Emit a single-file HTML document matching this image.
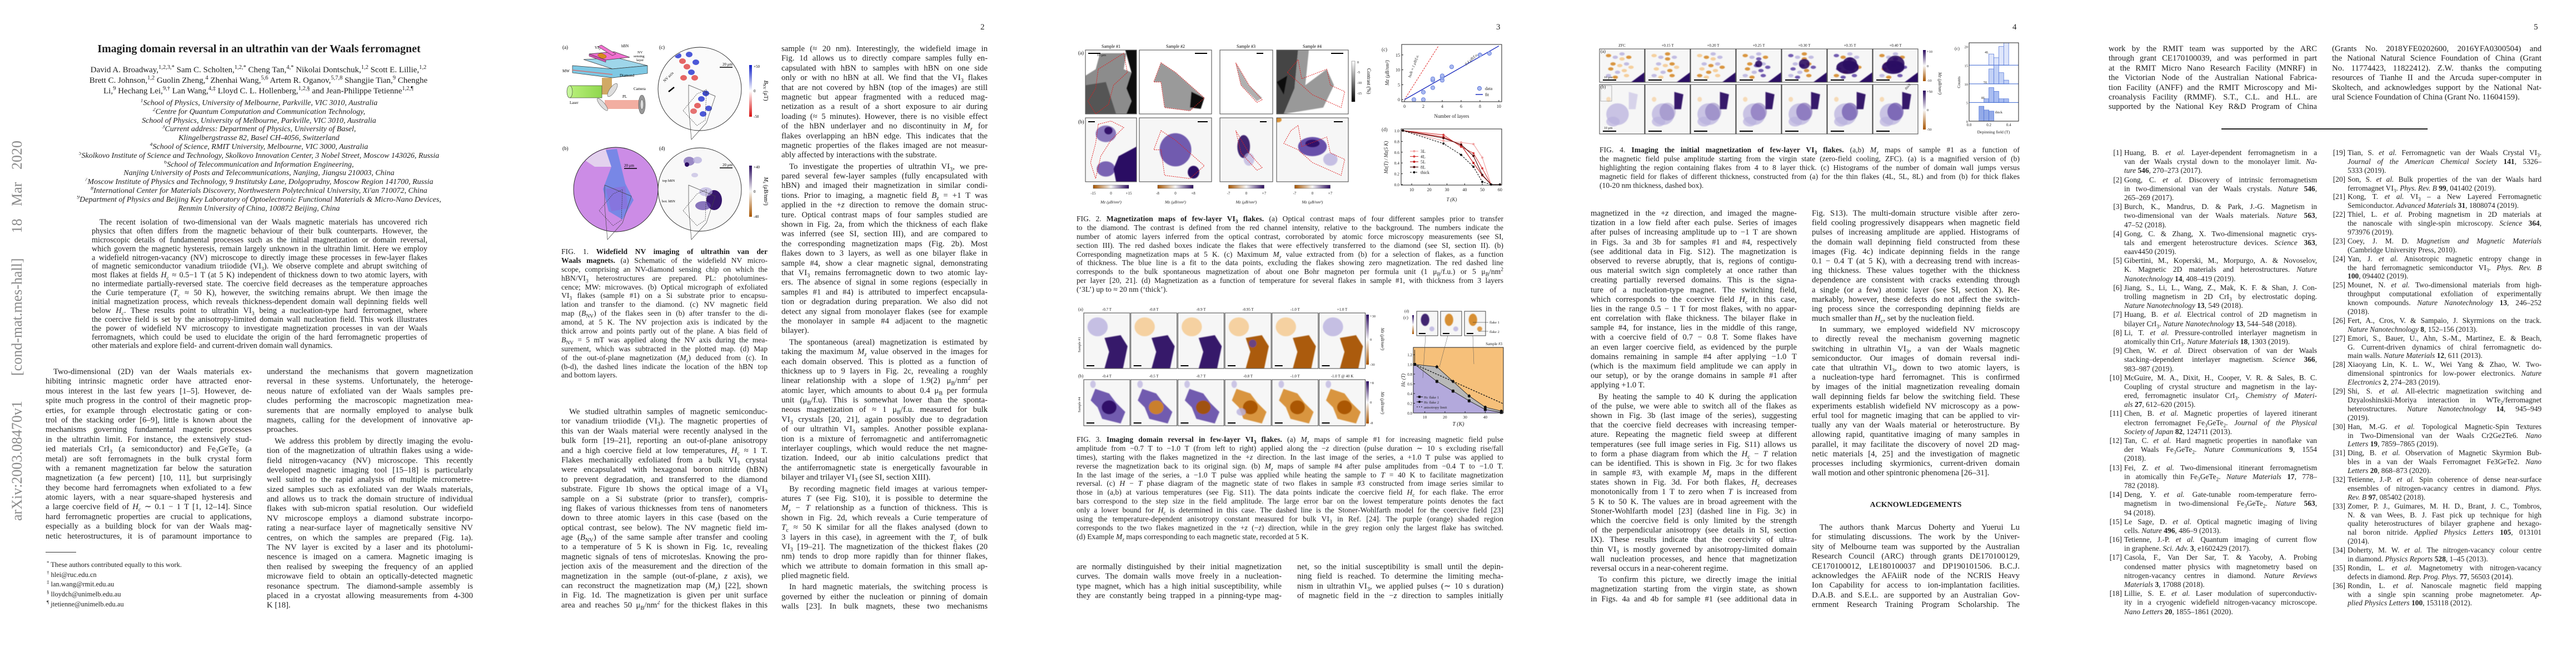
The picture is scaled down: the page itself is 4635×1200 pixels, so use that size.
<!DOCTYPE html>
<html><head><meta charset="utf-8"><title>Imaging domain reversal in an ultrathin van der Waals ferromagnet</title>
<style>
body{margin:0;width:4635px;height:1200px;background:#fff;overflow:hidden;position:relative;font-family:"Liberation Serif",serif;color:#1e1e1e}
sup,sub{line-height:0;font-size:0.7em}
.blk{position:absolute}
.t{font-size:14.8px;line-height:17.4px}
.t .l{height:17.4px}
.l{overflow:hidden;text-align:justify;text-align-last:justify}
.e{text-align-last:left}
.c{text-align:center;text-align-last:center}
.i{text-indent:14px}
.p{margin-top:3px}
.cap{font-size:13.6px;line-height:15.9px}
.cap .l{height:15.9px}
.ref{font-size:13.4px;line-height:16.2px}
.ref .l{height:16.2px}
.ref2 .l{height:15.9px}
.r{position:relative;padding-left:28px}
.n{position:absolute;left:0;top:0;width:24px;text-align:right}
.aff{font-style:italic;font-size:14px;line-height:15.8px;text-align:center}
.aff div{height:15.8px;overflow:hidden}
.pn{font-size:15px}
svg text{font-family:"Liberation Serif",serif}
</style></head>
<body>

<div class="blk" style="left:-311px;top:575px;width:684px;height:40px;transform:rotate(-90deg);font-family:'Liberation Serif',serif;font-size:26px;color:#8a8a8a;line-height:40px;text-align:justify;text-align-last:justify">arXiv:2003.08470v1 &nbsp;[cond-mat.mes-hall] &nbsp;18 Mar 2020</div>

<!-- ================= PAGE 1 ================= -->
<div class="blk" style="left:163px;top:76px;width:606px;text-align:center;font-size:20px;font-weight:bold;line-height:24px">Imaging domain reversal in an ultrathin van der Waals ferromagnet</div>
<div class="blk" style="left:113px;top:117px;width:704px;font-size:15px;line-height:19px;text-align:center">
<div>David A. Broadway,<sup>1,2,3,*</sup> Sam C. Scholten,<sup>1,2,*</sup> Cheng Tan,<sup>4,*</sup> Nikolai Dontschuk,<sup>1,2</sup> Scott E. Lillie,<sup>1,2</sup></div>
<div>Brett C. Johnson,<sup>1,2</sup> Guolin Zheng,<sup>4</sup> Zhenhai Wang,<sup>5,6</sup> Artem R. Oganov,<sup>5,7,8</sup> Shangjie Tian,<sup>9</sup> Chenghe</div>
<div>Li,<sup>9</sup> Hechang Lei,<sup>9,†</sup> Lan Wang,<sup>4,‡</sup> Lloyd C. L. Hollenberg,<sup>1,2,§</sup> and Jean-Philippe Tetienne<sup>1,2,¶</sup></div>
</div>
<div class="blk aff" style="left:110px;top:178px;width:712px">
<div><sup>1</sup>School of Physics, University of Melbourne, Parkville, VIC 3010, Australia</div>
<div><sup>2</sup>Centre for Quantum Computation and Communication Technology,</div>
<div>School of Physics, University of Melbourne, Parkville, VIC 3010, Australia</div>
<div><sup>3</sup>Current address: Department of Physics, University of Basel,</div>
<div>Klingelbergstrasse 82, Basel CH-4056, Switzerland</div>
<div><sup>4</sup>School of Science, RMIT University, Melbourne, VIC 3000, Australia</div>
<div><sup>5</sup>Skolkovo Institute of Science and Technology, Skolkovo Innovation Center, 3 Nobel Street, Moscow 143026, Russia</div>
<div><sup>6</sup>School of Telecommunication and Information Engineering,</div>
<div>Nanjing University of Posts and Telecommunications, Nanjing, Jiangsu 210003, China</div>
<div><sup>7</sup>Moscow Institute of Physics and Technology, 9 Institutsky Lane, Dolgoprudny, Moscow Region 141700, Russia</div>
<div><sup>8</sup>International Center for Materials Discovery, Northwestern Polytechnical University, Xi'an 710072, China</div>
<div><sup>9</sup>Department of Physics and Beijing Key Laboratory of Optoelectronic Functional Materials &amp; Micro-Nano Devices,</div>
<div>Renmin University of China, 100872 Beijing, China</div>
</div>
<div class="blk" style="left:165px;top:393px;width:604px;font-size:14.2px;line-height:15.9px">
<div class="l i" style="height:15.9px">The recent isolation of two-dimensional van der Waals magnetic materials has uncovered rich</div>
<div class="l" style="height:15.9px">physics that often differs from the magnetic behaviour of their bulk counterparts. However, the</div>
<div class="l" style="height:15.9px">microscopic details of fundamental processes such as the initial magnetization or domain reversal,</div>
<div class="l" style="height:15.9px">which govern the magnetic hysteresis, remain largely unknown in the ultrathin limit. Here we employ</div>
<div class="l" style="height:15.9px">a widefield nitrogen-vacancy (NV) microscope to directly image these processes in few-layer flakes</div>
<div class="l" style="height:15.9px">of magnetic semiconductor vanadium triiodide (VI<sub>3</sub>). We observe complete and abrupt switching of</div>
<div class="l" style="height:15.9px">most flakes at fields <i>H</i><sub>c</sub> ≈ 0.5−1 T (at 5 K) independent of thickness down to two atomic layers, with</div>
<div class="l" style="height:15.9px">no intermediate partially-reversed state. The coercive field decreases as the temperature approaches</div>
<div class="l" style="height:15.9px">the Curie temperature (<i>T</i><sub>c</sub> ≈ 50 K), however, the switching remains abrupt. We then image the</div>
<div class="l" style="height:15.9px">initial magnetization process, which reveals thickness-dependent domain wall depinning fields well</div>
<div class="l" style="height:15.9px">below <i>H</i><sub>c</sub>. These results point to ultrathin VI<sub>3</sub> being a nucleation-type hard ferromagnet, where</div>
<div class="l" style="height:15.9px">the coercive field is set by the anisotropy-limited domain wall nucleation field. This work illustrates</div>
<div class="l" style="height:15.9px">the power of widefield NV microscopy to investigate magnetization processes in van der Waals</div>
<div class="l" style="height:15.9px">ferromagnets, which could be used to elucidate the origin of the hard ferromagnetic properties of</div>
<div class="l e" style="height:15.9px">other materials and explore field- and current-driven domain wall dynamics.</div>
</div>

<div class="blk t" style="left:82px;top:661px;width:371px">
<div class="l i">Two-dimensional (2D) van der Waals materials ex-</div>
<div class="l">hibiting intrinsic magnetic order have attracted enor-</div>
<div class="l">mous interest in the last few years [1–5]. However, de-</div>
<div class="l">spite much progress in the control of their magnetic prop-</div>
<div class="l">erties, for example through electrostatic gating or con-</div>
<div class="l">trol of the stacking order [6–9], little is known about the</div>
<div class="l">mechanisms governing fundamental magnetic processes</div>
<div class="l">in the ultrathin limit. For instance, the extensively stud-</div>
<div class="l">ied materials CrI<sub>3</sub> (a semiconductor) and Fe<sub>3</sub>GeTe<sub>2</sub> (a</div>
<div class="l">metal) are soft ferromagnets in the bulk crystal form</div>
<div class="l">with a remanent magnetization far below the saturation</div>
<div class="l">magnetization (a few percent) [10, 11], but surprisingly</div>
<div class="l">they become hard ferromagnets when exfoliated to a few</div>
<div class="l">atomic layers, with a near square-shaped hysteresis and</div>
<div class="l">a large coercive field of <i>H</i><sub>c</sub> ∼ 0.1 − 1 T [1, 12–14]. Since</div>
<div class="l">hard ferromagnetic properties are crucial to applications,</div>
<div class="l">especially as a building block for van der Waals mag-</div>
<div class="l">netic heterostructures, it is of paramount importance to</div>
</div>
<div class="blk" style="left:82px;top:993px;width:55px;height:1px;background:#333"></div>
<div class="blk" style="left:84px;top:1008px;width:360px;font-size:12.5px;line-height:17.7px">
<div><sup>*</sup> These authors contributed equally to this work.</div>
<div><sup>†</sup> hlei@ruc.edu.cn</div>
<div><sup>‡</sup> lan.wang@rmit.edu.au</div>
<div><sup>§</sup> lloydch@unimelb.edu.au</div>
<div><sup>¶</sup> jtetienne@unimelb.edu.au</div>
</div>
<div class="blk t" style="left:480px;top:661px;width:371px">
<div class="l">understand the mechanisms that govern magnetization</div>
<div class="l">reversal in these systems. Unfortunately, the heteroge-</div>
<div class="l">neous nature of exfoliated van der Waals samples pre-</div>
<div class="l">cludes performing the macroscopic magnetization mea-</div>
<div class="l">surements that are normally employed to analyse bulk</div>
<div class="l">magnets, calling for the development of innovative ap-</div>
<div class="l e">proaches.</div>
<div class="l i p">We address this problem by directly imaging the evolu-</div>
<div class="l">tion of the magnetization of ultrathin flakes using a wide-</div>
<div class="l">field nitrogen-vacancy (NV) microscope. This recently</div>
<div class="l">developed magnetic imaging tool [15–18] is particularly</div>
<div class="l">well suited to the rapid analysis of multiple micrometre-</div>
<div class="l">sized samples such as exfoliated van der Waals materials,</div>
<div class="l">and allows us to track the domain structure of individual</div>
<div class="l">flakes with sub-micron spatial resolution. Our widefield</div>
<div class="l">NV microscope employs a diamond substrate incorpo-</div>
<div class="l">rating a near-surface layer of magnetically sensitive NV</div>
<div class="l">centres, on which the samples are prepared (Fig. 1a).</div>
<div class="l">The NV layer is excited by a laser and its photolumi-</div>
<div class="l">nescence is imaged on a camera. Magnetic imaging is</div>
<div class="l">then realised by sweeping the frequency of an applied</div>
<div class="l">microwave field to obtain an optically-detected magnetic</div>
<div class="l">resonance spectrum. The diamond-sample assembly is</div>
<div class="l">placed in a cryostat allowing measurements from 4-300</div>
<div class="l e">K [18].</div>
</div>

<!-- ================= PAGE 2 ================= -->
<div class="blk pn" style="left:1764px;top:41px">2</div>
<div class="blk cap" style="left:1010px;top:445px;width:371px">
<div class="l">FIG. 1. <b>Widefield NV imaging of ultrathin van der</b></div>
<div class="l"><b>Waals magnets.</b> (a) Schematic of the widefield NV micro-</div>
<div class="l">scope, comprising an NV-diamond sensing chip on which the</div>
<div class="l">hBN/VI<sub>3</sub> heterostructures are prepared. PL: photolumines-</div>
<div class="l">cence; MW: microwaves. (b) Optical micrograph of exfoliated</div>
<div class="l">VI<sub>3</sub> flakes (sample #1) on a Si substrate prior to encapsu-</div>
<div class="l">lation and transfer to the diamond. (c) NV magnetic field</div>
<div class="l">map (<i>B</i><sub>NV</sub>) of the flakes seen in (b) after transfer to the di-</div>
<div class="l">amond, at 5 K. The NV projection axis is indicated by the</div>
<div class="l">thick arrow and points partly out of the plane. A bias field of</div>
<div class="l"><i>B</i><sub>NV</sub> = 5 mT was applied along the NV axis during the mea-</div>
<div class="l">surement, which was subtracted in the plotted map. (d) Map</div>
<div class="l">of the out-of-plane magnetization (<i>M<sub>z</sub></i>) deduced from (c). In</div>
<div class="l">(b-d), the dashed lines indicate the location of the hBN top</div>
<div class="l e">and bottom layers.</div>
</div>
<div class="blk t" style="left:1010px;top:733px;width:371px">
<div class="l i">We studied ultrathin samples of magnetic semiconduc-</div>
<div class="l">tor vanadium triiodide (VI<sub>3</sub>). The magnetic properties of</div>
<div class="l">this van der Waals material were recently analysed in the</div>
<div class="l">bulk form [19–21], reporting an out-of-plane anisotropy</div>
<div class="l">and a high coercive field at low temperatures, <i>H</i><sub>c</sub> ≈ 1 T.</div>
<div class="l">Flakes mechanically exfoliated from a bulk VI<sub>3</sub> crystal</div>
<div class="l">were encapsulated with hexagonal boron nitride (hBN)</div>
<div class="l">to prevent degradation, and transferred to the diamond</div>
<div class="l">substrate. Figure 1b shows the optical image of a VI<sub>3</sub></div>
<div class="l">sample on a Si substrate (prior to transfer), compris-</div>
<div class="l">ing flakes of various thicknesses from tens of nanometers</div>
<div class="l">down to three atomic layers in this case (based on the</div>
<div class="l">optical contrast, see below). The NV magnetic field im-</div>
<div class="l">age (<i>B</i><sub>NV</sub>) of the same sample after transfer and cooling</div>
<div class="l">to a temperature of 5 K is shown in Fig. 1c, revealing</div>
<div class="l">magnetic signals of tens of microteslas. Knowing the pro-</div>
<div class="l">jection axis of the measurement and the direction of the</div>
<div class="l">magnetization in the sample (out-of-plane, <i>z</i> axis), we</div>
<div class="l">can reconstruct the magnetization map (<i>M<sub>z</sub></i>) [22], shown</div>
<div class="l">in Fig. 1d. The magnetization is given per unit surface</div>
<div class="l">area and reaches 50 μ<sub>B</sub>/nm<sup>2</sup> for the thickest flakes in this</div>
</div>
<div class="blk t" style="left:1406px;top:80px;width:371px;line-height:17.3px">
<div class="l">sample (≈ 20 nm). Interestingly, the widefield image in</div>
<div class="l">Fig. 1d allows us to directly compare samples fully en-</div>
<div class="l">capsulated with hBN to samples with hBN on one side</div>
<div class="l">only or with no hBN at all. We find that the VI<sub>3</sub> flakes</div>
<div class="l">that are not covered by hBN (top of the images) are still</div>
<div class="l">magnetic but appear fragmented with a reduced mag-</div>
<div class="l">netization as a result of a short exposure to air during</div>
<div class="l">loading (≈ 5 minutes). However, there is no visible effect</div>
<div class="l">of the hBN underlayer and no discontinuity in <i>M<sub>z</sub></i> for</div>
<div class="l">flakes overlapping an hBN edge. This indicates that the</div>
<div class="l">magnetic properties of the flakes imaged are not measur-</div>
<div class="l e">ably affected by interactions with the substrate.</div>
<div class="l i p">To investigate the properties of ultrathin VI<sub>3</sub>, we pre-</div>
<div class="l">pared several few-layer samples (fully encapsulated with</div>
<div class="l">hBN) and imaged their magnetization in similar condi-</div>
<div class="l">tions. Prior to imaging, a magnetic field <i>B<sub>z</sub></i> = +1 T was</div>
<div class="l">applied in the +<i>z</i> direction to remove the domain struc-</div>
<div class="l">ture. Optical contrast maps of four samples studied are</div>
<div class="l">shown in Fig. 2a, from which the thickness of each flake</div>
<div class="l">was inferred (see SI, section III), and are compared to</div>
<div class="l">the corresponding magnetization maps (Fig. 2b). Most</div>
<div class="l">flakes down to 3 layers, as well as one bilayer flake in</div>
<div class="l">sample #4, show a clear magnetic signal, demonstrating</div>
<div class="l">that VI<sub>3</sub> remains ferromagnetic down to two atomic lay-</div>
<div class="l">ers. The absence of signal in some regions (especially in</div>
<div class="l">samples #1 and #4) is attributed to imperfect encapsula-</div>
<div class="l">tion or degradation during preparation. We also did not</div>
<div class="l">detect any signal from monolayer flakes (see for example</div>
<div class="l">the monolayer in sample #4 adjacent to the magnetic</div>
<div class="l e">bilayer).</div>
<div class="l i p">The spontaneous (areal) magnetization is estimated by</div>
<div class="l">taking the maximum <i>M<sub>z</sub></i> value observed in the images for</div>
<div class="l">each domain observed. This is plotted as a function of</div>
<div class="l">thickness up to 9 layers in Fig. 2c, revealing a roughly</div>
<div class="l">linear relationship with a slope of 1.9(2) μ<sub>B</sub>/nm<sup>2</sup> per</div>
<div class="l">atomic layer, which amounts to about 0.4 μ<sub>B</sub> per formula</div>
<div class="l">unit (μ<sub>B</sub>/f.u). This is somewhat lower than the sponta-</div>
<div class="l">neous magnetization of ≈ 1 μ<sub>B</sub>/f.u. measured for bulk</div>
<div class="l">VI<sub>3</sub> crystals [20, 21], again possibly due to degradation</div>
<div class="l">of our ultrathin VI<sub>3</sub> samples. Another possible explana-</div>
<div class="l">tion is a mixture of ferromagnetic and antiferromagnetic</div>
<div class="l">interlayer couplings, which would reduce the net magne-</div>
<div class="l">tization. Indeed, our ab initio calculations predict that</div>
<div class="l">the antiferromagnetic state is energetically favourable in</div>
<div class="l e">bilayer and trilayer VI<sub>3</sub> (see SI, section XIII).</div>
<div class="l i p">By recording magnetic field images at various temper-</div>
<div class="l">atures <i>T</i> (see Fig. S10), it is possible to determine the</div>
<div class="l"><i>M<sub>z</sub></i> − <i>T</i> relationship as a function of thickness. This is</div>
<div class="l">shown in Fig. 2d, which reveals a Curie temperature of</div>
<div class="l"><i>T</i><sub>c</sub> ≈ 50 K similar for all the flakes analysed (down to</div>
<div class="l">3 layers in this case), in agreement with the <i>T</i><sub>c</sub> of bulk</div>
<div class="l">VI<sub>3</sub> [19–21]. The magnetization of the thickest flakes (20</div>
<div class="l">nm) tends to drop more rapidly than for thinner flakes,</div>
<div class="l">which we attribute to domain formation in this small ap-</div>
<div class="l e">plied magnetic field.</div>
<div class="l i p">In hard magnetic materials, the switching process is</div>
<div class="l">governed by either the nucleation or pinning of domain</div>
<div class="l">walls [23]. In bulk magnets, these two mechanisms</div>
</div>

<!-- ================= PAGE 3 ================= -->
<div class="blk pn" style="left:2692px;top:41px">3</div>
<div class="blk cap" style="left:1937px;top:386px;width:768px">
<div class="l">FIG. 2. <b>Magnetization maps of few-layer VI<sub>3</sub> flakes.</b> (a) Optical contrast maps of four different samples prior to transfer</div>
<div class="l">to the diamond. The contrast is defined from the red channel intensity, relative to the background. The numbers indicate the</div>
<div class="l">number of atomic layers inferred from the optical contrast, corroborated by atomic force microscopy measurements (see SI,</div>
<div class="l">section III). The red dashed boxes indicate the flakes that were effectively transferred to the diamond (see SI, section II). (b)</div>
<div class="l">Corresponding magnetization maps at 5 K. (c) Maximum <i>M<sub>z</sub></i> value extracted from (b) for a selection of flakes, as a function</div>
<div class="l">of thickness. The blue line is a fit to the data points, excluding the flakes showing zero magnetization. The red dashed line</div>
<div class="l">corresponds to the bulk spontaneous magnetization of about one Bohr magneton per formula unit (1 μ<sub>B</sub>/f.u.) or 5 μ<sub>B</sub>/nm<sup>2</sup></div>
<div class="l">per layer [20, 21]. (d) Magnetization as a function of temperature for several flakes in sample #1, with thickness from 3 layers</div>
<div class="l e">(‘3L’) up to ≈ 20 nm (‘thick’).</div>
</div>
<div class="blk cap" style="left:1937px;top:783px;width:768px">
<div class="l">FIG. 3. <b>Imaging domain reversal in few-layer VI<sub>3</sub> flakes.</b> (a) <i>M<sub>z</sub></i> maps of sample #1 for increasing magnetic field pulse</div>
<div class="l">amplitude from −0.7 T to −1.0 T (from left to right) applied along the −<i>z</i> direction (pulse duration ∼ 10 s excluding rise/fall</div>
<div class="l">times), starting with the flakes magnetized in the +<i>z</i> direction. In the last image of the series, a +1.0 T pulse was applied to</div>
<div class="l">reverse the magnetization back to its original sign. (b) <i>M<sub>z</sub></i> maps of sample #4 after pulse amplitudes from −0.4 T to −1.0 T.</div>
<div class="l">In the last image of the series, a −1.0 T pulse was applied while heating the sample to <i>T</i> = 40 K to facilitate magnetization</div>
<div class="l">reversal. (c) <i>H</i> − <i>T</i> phase diagram of the magnetic state of two flakes in sample #3 constructed from image series similar to</div>
<div class="l">those in (a,b) at various temperatures (see Fig. S11). The data points indicate the coercive field <i>H</i><sub>c</sub> for each flake. The error</div>
<div class="l">bars correspond to the step size in the field amplitude. The large error bar on the lowest temperature points denotes the fact</div>
<div class="l">only a lower bound for <i>H</i><sub>c</sub> is determined in this case. The dashed line is the Stoner-Wohlfarth model for the coercive field [23]</div>
<div class="l">using the temperature-dependent anisotropy constant measured for bulk VI<sub>3</sub> in Ref. [24]. The purple (orange) shaded region</div>
<div class="l">corresponds to the two flakes magnetized in the +<i>z</i> (−<i>z</i>) direction, while in the grey region only the largest flake has switched.</div>
<div class="l e">(d) Example <i>M<sub>z</sub></i> maps corresponding to each magnetic state, recorded at 5 K.</div>
</div>
<div class="blk t" style="left:1937px;top:1012px;width:369px">
<div class="l">are normally distinguished by their initial magnetization</div>
<div class="l">curves. The domain walls move freely in a nucleation-</div>
<div class="l">type magnet, which has a high initial susceptibility, while</div>
<div class="l">they are constantly being trapped in a pinning-type mag-</div>
</div>
<div class="blk t" style="left:2334px;top:1012px;width:371px">
<div class="l">net, so the initial susceptibility is small until the depin-</div>
<div class="l">ning field is reached. To determine the limiting mecha-</div>
<div class="l">nism in ultrathin VI<sub>3</sub>, we applied pulses (∼ 10 s duration)</div>
<div class="l">of magnetic field in the −<i>z</i> direction to samples initially</div>
</div>

<!-- ================= PAGE 4 ================= -->
<div class="blk pn" style="left:3621px;top:41px">4</div>
<div class="blk cap" style="left:2878px;top:262px;width:756px">
<div class="l">FIG. 4. <b>Imaging the initial magnetization of few-layer VI<sub>3</sub> flakes.</b> (a,b) <i>M<sub>z</sub></i> maps of sample #1 as a function of</div>
<div class="l">the magnetic field pulse amplitude starting from the virgin state (zero-field cooling, ZFC). (a) is a magnified version of (b)</div>
<div class="l">highlighting the region containing flakes from 4 to 8 layer thick. (c) Histograms of the number of domain wall jumps versus</div>
<div class="l">magnetic field for flakes of different thickness, constructed from (a) for the thin flakes (4L, 5L, 8L) and from (b) for thick flakes</div>
<div class="l e">(10-20 nm thickness, dashed box).</div>
</div>
<div class="blk t" style="left:2862px;top:376px;width:371px;line-height:17.2px">
<div class="l" style="height:17.2px">magnetized in the +<i>z</i> direction, and imaged the magne-</div>
<div class="l" style="height:17.2px">tization in a low field after each pulse. Series of images</div>
<div class="l" style="height:17.2px">after pulses of increasing amplitude up to −1 T are shown</div>
<div class="l" style="height:17.2px">in Figs. 3a and 3b for samples #1 and #4, respectively</div>
<div class="l" style="height:17.2px">(see additional data in Fig. S12). The magnetization is</div>
<div class="l" style="height:17.2px">observed to reverse abruptly, that is, regions of contigu-</div>
<div class="l" style="height:17.2px">ous material switch sign completely at once rather than</div>
<div class="l" style="height:17.2px">creating partially reversed domains. This is the signa-</div>
<div class="l" style="height:17.2px">ture of a nucleation-type magnet. The switching field,</div>
<div class="l" style="height:17.2px">which corresponds to the coercive field <i>H</i><sub>c</sub> in this case,</div>
<div class="l" style="height:17.2px">lies in the range 0.5 − 1 T for most flakes, with no appar-</div>
<div class="l" style="height:17.2px">ent correlation with flake thickness. The bilayer flake in</div>
<div class="l" style="height:17.2px">sample #4, for instance, lies in the middle of this range,</div>
<div class="l" style="height:17.2px">with a coercive field of 0.7 − 0.8 T. Some flakes have</div>
<div class="l" style="height:17.2px">an even larger coercive field, as evidenced by the purple</div>
<div class="l" style="height:17.2px">domains remaining in sample #4 after applying −1.0 T</div>
<div class="l" style="height:17.2px">(which is the maximum field amplitude we can apply in</div>
<div class="l" style="height:17.2px">our setup), or by the orange domains in sample #1 after</div>
<div class="l e" style="height:17.2px">applying +1.0 T.</div>
<div class="l i p" style="height:17.2px">By heating the sample to 40 K during the application</div>
<div class="l" style="height:17.2px">of the pulse, we were able to switch all of the flakes as</div>
<div class="l" style="height:17.2px">shown in Fig. 3b (last image of the series), suggesting</div>
<div class="l" style="height:17.2px">that the coercive field decreases with increasing temper-</div>
<div class="l" style="height:17.2px">ature. Repeating the magnetic field sweep at different</div>
<div class="l" style="height:17.2px">temperatures (see full image series in Fig. S11) allows us</div>
<div class="l" style="height:17.2px">to form a phase diagram from which the <i>H</i><sub>c</sub> − <i>T</i> relation</div>
<div class="l" style="height:17.2px">can be identified. This is shown in Fig. 3c for two flakes</div>
<div class="l" style="height:17.2px">in sample #3, with example <i>M<sub>z</sub></i> maps in the different</div>
<div class="l" style="height:17.2px">states shown in Fig. 3d. For both flakes, <i>H</i><sub>c</sub> decreases</div>
<div class="l" style="height:17.2px">monotonically from 1 T to zero when <i>T</i> is increased from</div>
<div class="l" style="height:17.2px">5 K to 50 K. The values are in broad agreement with the</div>
<div class="l" style="height:17.2px">Stoner-Wohlfarth model [23] (dashed line in Fig. 3c) in</div>
<div class="l" style="height:17.2px">which the coercive field is only limited by the strength</div>
<div class="l" style="height:17.2px">of the perpendicular anisotropy (see details in SI, section</div>
<div class="l" style="height:17.2px">IX). These results indicate that the coercivity of ultra-</div>
<div class="l" style="height:17.2px">thin VI<sub>3</sub> is mostly governed by anisotropy-limited domain</div>
<div class="l" style="height:17.2px">wall nucleation processes, and hence that magnetization</div>
<div class="l e" style="height:17.2px">reversal occurs in a near-coherent regime.</div>
<div class="l i p" style="height:17.2px">To confirm this picture, we directly image the initial</div>
<div class="l" style="height:17.2px">magnetization starting from the virgin state, as shown</div>
<div class="l" style="height:17.2px">in Figs. 4a and 4b for sample #1 (see additional data in</div>
</div>
<div class="blk t" style="left:3260px;top:376px;width:374px;line-height:17.2px">
<div class="l" style="height:17.2px">Fig. S13). The multi-domain structure visible after zero-</div>
<div class="l" style="height:17.2px">field cooling progressively disappears when magnetic field</div>
<div class="l" style="height:17.2px">pulses of increasing amplitude are applied. Histograms of</div>
<div class="l" style="height:17.2px">the domain wall depinning field constructed from these</div>
<div class="l" style="height:17.2px">images (Fig. 4c) indicate depinning fields in the range</div>
<div class="l" style="height:17.2px">0.1 − 0.4 T (at 5 K), with a decreasing trend with increas-</div>
<div class="l" style="height:17.2px">ing thickness. These values together with the thickness</div>
<div class="l" style="height:17.2px">dependence are consistent with cracks extending through</div>
<div class="l" style="height:17.2px">a single (or a few) atomic layer (see SI, section X). Re-</div>
<div class="l" style="height:17.2px">markably, however, these defects do not affect the switch-</div>
<div class="l" style="height:17.2px">ing process since the corresponding depinning fields are</div>
<div class="l e" style="height:17.2px">much smaller than <i>H</i><sub>c</sub>, set by the nucleation field.</div>
<div class="l i p" style="height:17.2px">In summary, we employed widefield NV microscopy</div>
<div class="l" style="height:17.2px">to directly reveal the mechanism governing magnetic</div>
<div class="l" style="height:17.2px">switching in ultrathin VI<sub>3</sub>, a van der Waals magnetic</div>
<div class="l" style="height:17.2px">semiconductor. Our images of domain reversal indi-</div>
<div class="l" style="height:17.2px">cate that ultrathin VI<sub>3</sub>, down to two atomic layers, is</div>
<div class="l" style="height:17.2px">a nucleation-type hard ferromagnet. This is confirmed</div>
<div class="l" style="height:17.2px">by images of the initial magnetization revealing domain</div>
<div class="l" style="height:17.2px">wall depinning fields far below the switching field. These</div>
<div class="l" style="height:17.2px">experiments establish widefield NV microscopy as a pow-</div>
<div class="l" style="height:17.2px">erful tool for magnetic imaging that can be applied to vir-</div>
<div class="l" style="height:17.2px">tually any van der Waals material or heterostructure. By</div>
<div class="l" style="height:17.2px">allowing rapid, quantitative imaging of many samples in</div>
<div class="l" style="height:17.2px">parallel, it may facilitate the discovery of novel 2D mag-</div>
<div class="l" style="height:17.2px">netic materials [4, 25] and the investigation of magnetic</div>
<div class="l" style="height:17.2px">processes including skyrmionics, current-driven domain</div>
<div class="l e" style="height:17.2px">wall motion and other spintronic phenomena [26–31].</div>
</div>
<div class="blk" style="left:3260px;top:901px;width:374px;text-align:center;font-weight:bold;font-size:14px">ACKNOWLEDGEMENTS</div>
<div class="blk t" style="left:3260px;top:941px;width:374px">
<div class="l i">The authors thank Marcus Doherty and Yuerui Lu</div>
<div class="l">for stimulating discussions. The work by the Univer-</div>
<div class="l">sity of Melbourne team was supported by the Australian</div>
<div class="l">Research Council (ARC) through grants DE170100129,</div>
<div class="l">CE170100012, LE180100037 and DP190101506. B.C.J.</div>
<div class="l">acknowledges the AFAiiR node of the NCRIS Heavy</div>
<div class="l">Ion Capability for access to ion-implantation facilities.</div>
<div class="l">D.A.B. and S.E.L. are supported by an Australian Gov-</div>
<div class="l">ernment Research Training Program Scholarship. The</div>
</div>

<!-- ================= PAGE 5 ================= -->
<div class="blk pn" style="left:4559px;top:41px">5</div>
<div class="blk t" style="left:3794px;top:80px;width:375px">
<div class="l">work by the RMIT team was supported by the ARC</div>
<div class="l">through grant CE170100039, and was performed in part</div>
<div class="l">at the RMIT Micro Nano Research Facility (MNRF) in</div>
<div class="l">the Victorian Node of the Australian National Fabrica-</div>
<div class="l">tion Facility (ANFF) and the RMIT Microscopy and Mi-</div>
<div class="l">croanalysis Facility (RMMF). S.T., C.L. and H.L. are</div>
<div class="l">supported by the National Key R&amp;D Program of China</div>
</div>
<div class="blk t" style="left:4196px;top:80px;width:377px">
<div class="l">(Grants No. 2018YFE0202600, 2016YFA0300504) and</div>
<div class="l">the National Natural Science Foundation of China (Grant</div>
<div class="l">No. 11774423, 11822412). Z.W. thanks the computing</div>
<div class="l">resources of Tianhe II and the Arcuda super-computer in</div>
<div class="l">Skoltech, and acknowledges support by the National Nat-</div>
<div class="l e">ural Science Foundation of China (Grant No. 11604159).</div>
</div>
<div class="blk" style="left:3997px;top:231px;width:371px;height:2px;background:#222"></div>

<div class="blk ref" style="left:3794px;top:267px;width:375px">
<div class="r"><span class="n">[1]</span><div class="l">Huang, B. <i>et al.</i> Layer-dependent ferromagnetism in a</div><div class="l">van der Waals crystal down to the monolayer limit. <i>Na-</i></div><div class="l e"><i>ture</i> <b>546</b>, 270–273 (2017).</div></div>
<div class="r"><span class="n">[2]</span><div class="l">Gong, C. <i>et al.</i> Discovery of intrinsic ferromagnetism</div><div class="l">in two-dimensional van der Waals crystals. <i>Nature</i> <b>546</b>,</div><div class="l e">265–269 (2017).</div></div>
<div class="r"><span class="n">[3]</span><div class="l">Burch, K., Mandrus, D. &amp; Park, J.-G. Magnetism in</div><div class="l">two-dimensional van der Waals materials. <i>Nature</i> <b>563</b>,</div><div class="l e">47–52 (2018).</div></div>
<div class="r"><span class="n">[4]</span><div class="l">Gong, C. &amp; Zhang, X. Two-dimensional magnetic crys-</div><div class="l">tals and emergent heterostructure devices. <i>Science</i> <b>363</b>,</div><div class="l e">eaav4450 (2019).</div></div>
<div class="r"><span class="n">[5]</span><div class="l">Gibertini, M., Koperski, M., Morpurgo, A. &amp; Novoselov,</div><div class="l">K. Magnetic 2D materials and heterostructures. <i>Nature</i></div><div class="l e"><i>Nanotechnology</i> <b>14</b>, 408–419 (2019).</div></div>
<div class="r"><span class="n">[6]</span><div class="l">Jiang, S., Li, L., Wang, Z., Mak, K. F. &amp; Shan, J. Con-</div><div class="l">trolling magnetism in 2D CrI<sub>3</sub> by electrostatic doping.</div><div class="l e"><i>Nature Nanotechnology</i> <b>13</b>, 549 (2018).</div></div>
<div class="r"><span class="n">[7]</span><div class="l">Huang, B. <i>et al.</i> Electrical control of 2D magnetism in</div><div class="l e">bilayer CrI<sub>3</sub>. <i>Nature Nanotechnology</i> <b>13</b>, 544–548 (2018).</div></div>
<div class="r"><span class="n">[8]</span><div class="l">Li, T. <i>et al.</i> Pressure-controlled interlayer magnetism in</div><div class="l e">atomically thin CrI<sub>3</sub>. <i>Nature Materials</i> <b>18</b>, 1303 (2019).</div></div>
<div class="r"><span class="n">[9]</span><div class="l">Chen, W. <i>et al.</i> Direct observation of van der Waals</div><div class="l">stacking–dependent interlayer magnetism. <i>Science</i> <b>366</b>,</div><div class="l e">983–987 (2019).</div></div>
<div class="r"><span class="n">[10]</span><div class="l">McGuire, M. A., Dixit, H., Cooper, V. R. &amp; Sales, B. C.</div><div class="l">Coupling of crystal structure and magnetism in the lay-</div><div class="l">ered, ferromagnetic insulator CrI<sub>3</sub>. <i>Chemistry of Materi-</i></div><div class="l e"><i>als</i> <b>27</b>, 612–620 (2015).</div></div>
<div class="r"><span class="n">[11]</span><div class="l">Chen, B. <i>et al.</i> Magnetic properties of layered itinerant</div><div class="l">electron ferromagnet Fe<sub>3</sub>GeTe<sub>2</sub>. <i>Journal of the Physical</i></div><div class="l e"><i>Society of Japan</i> <b>82</b>, 124711 (2013).</div></div>
<div class="r"><span class="n">[12]</span><div class="l">Tan, C. <i>et al.</i> Hard magnetic properties in nanoflake van</div><div class="l">der Waals Fe<sub>3</sub>GeTe<sub>2</sub>. <i>Nature Communications</i> <b>9</b>, 1554</div><div class="l e">(2018).</div></div>
<div class="r"><span class="n">[13]</span><div class="l">Fei, Z. <i>et al.</i> Two-dimensional itinerant ferromagnetism</div><div class="l">in atomically thin Fe<sub>3</sub>GeTe<sub>2</sub>. <i>Nature Materials</i> <b>17</b>, 778–</div><div class="l e">782 (2018).</div></div>
<div class="r"><span class="n">[14]</span><div class="l">Deng, Y. <i>et al.</i> Gate-tunable room-temperature ferro-</div><div class="l">magnetism in two-dimensional Fe<sub>3</sub>GeTe<sub>2</sub>. <i>Nature</i> <b>563</b>,</div><div class="l e">94 (2018).</div></div>
<div class="r"><span class="n">[15]</span><div class="l">Le Sage, D. <i>et al.</i> Optical magnetic imaging of living</div><div class="l e">cells. <i>Nature</i> <b>496</b>, 486–9 (2013).</div></div>
<div class="r"><span class="n">[16]</span><div class="l">Tetienne, J.-P. <i>et al.</i> Quantum imaging of current flow</div><div class="l e">in graphene. <i>Sci. Adv.</i> <b>3</b>, e1602429 (2017).</div></div>
<div class="r"><span class="n">[17]</span><div class="l">Casola, F., Van Der Sar, T. &amp; Yacoby, A. Probing</div><div class="l">condensed matter physics with magnetometry based on</div><div class="l">nitrogen-vacancy centres in diamond. <i>Nature Reviews</i></div><div class="l e"><i>Materials</i> <b>3</b>, 17088 (2018).</div></div>
<div class="r"><span class="n">[18]</span><div class="l">Lillie, S. E. <i>et al.</i> Laser modulation of superconductiv-</div><div class="l">ity in a cryogenic widefield nitrogen-vacancy microscope.</div><div class="l e"><i>Nano Letters</i> <b>20</b>, 1855–1861 (2020).</div></div>
</div>

<div class="blk ref ref2" style="left:4196px;top:267px;width:377px;line-height:15.9px">
<div class="r"><span class="n">[19]</span><div class="l">Tian, S. <i>et al.</i> Ferromagnetic van der Waals Crystal VI<sub>3</sub>.</div><div class="l"><i>Journal of the American Chemical Society</i> <b>141</b>, 5326–</div><div class="l e">5333 (2019).</div></div>
<div class="r"><span class="n">[20]</span><div class="l">Son, S. <i>et al.</i> Bulk properties of the van der Waals hard</div><div class="l e">ferromagnet VI<sub>3</sub>. <i>Phys. Rev. B</i> <b>99</b>, 041402 (2019).</div></div>
<div class="r"><span class="n">[21]</span><div class="l">Kong, T. <i>et al.</i> VI<sub>3</sub> – a New Layered Ferromagnetic</div><div class="l e">Semiconductor. <i>Advanced Materials</i> <b>31</b>, 1808074 (2019).</div></div>
<div class="r"><span class="n">[22]</span><div class="l">Thiel, L. <i>et al.</i> Probing magnetism in 2D materials at</div><div class="l">the nanoscale with single-spin microscopy. <i>Science</i> <b>364</b>,</div><div class="l e">973976 (2019).</div></div>
<div class="r"><span class="n">[23]</span><div class="l">Coey, J. M. D. <i>Magnetism and Magnetic Materials</i></div><div class="l e">(Cambridge University Press, 2010).</div></div>
<div class="r"><span class="n">[24]</span><div class="l">Yan, J. <i>et al.</i> Anisotropic magnetic entropy change in</div><div class="l">the hard ferromagnetic semiconductor VI<sub>3</sub>. <i>Phys. Rev. B</i></div><div class="l e"><b>100</b>, 094402 (2019).</div></div>
<div class="r"><span class="n">[25]</span><div class="l">Mounet, N. <i>et al.</i> Two-dimensional materials from high-</div><div class="l">throughput computational exfoliation of experimentally</div><div class="l">known compounds. <i>Nature Nanotechnology</i> <b>13</b>, 246–252</div><div class="l e">(2018).</div></div>
<div class="r"><span class="n">[26]</span><div class="l">Fert, A., Cros, V. &amp; Sampaio, J. Skyrmions on the track.</div><div class="l e"><i>Nature Nanotechnology</i> <b>8</b>, 152–156 (2013).</div></div>
<div class="r"><span class="n">[27]</span><div class="l">Emori, S., Bauer, U., Ahn, S.-M., Martinez, E. &amp; Beach,</div><div class="l">G. Current-driven dynamics of chiral ferromagnetic do-</div><div class="l e">main walls. <i>Nature Materials</i> <b>12</b>, 611 (2013).</div></div>
<div class="r"><span class="n">[28]</span><div class="l">Xiaoyang Lin, K. L. W., Wei Yang &amp; Zhao, W. Two-</div><div class="l">dimensional spintronics for low-power electronics. <i>Nature</i></div><div class="l e"><i>Electronics</i> <b>2</b>, 274–283 (2019).</div></div>
<div class="r"><span class="n">[29]</span><div class="l">Shi, S. <i>et al.</i> All-electric magnetization switching and</div><div class="l">Dzyaloshinskii-Moriya interaction in WTe<sub>2</sub>/ferromagnet</div><div class="l">heterostructures. <i>Nature Nanotechnology</i> <b>14</b>, 945–949</div><div class="l e">(2019).</div></div>
<div class="r"><span class="n">[30]</span><div class="l">Han, M.-G. <i>et al.</i> Topological Magnetic-Spin Textures</div><div class="l">in Two-Dimensional van der Waals Cr2Ge2Te6. <i>Nano</i></div><div class="l e"><i>Letters</i> <b>19</b>, 7859–7865 (2019).</div></div>
<div class="r"><span class="n">[31]</span><div class="l">Ding, B. <i>et al.</i> Observation of Magnetic Skyrmion Bub-</div><div class="l">bles in a van der Waals Ferromagnet Fe3GeTe2. <i>Nano</i></div><div class="l e"><i>Letters</i> <b>20</b>, 868–873 (2020).</div></div>
<div class="r"><span class="n">[32]</span><div class="l">Tetienne, J.-P. <i>et al.</i> Spin coherence of dense near-surface</div><div class="l">ensembles of nitrogen-vacancy centres in diamond. <i>Phys.</i></div><div class="l e"><i>Rev. B</i> <b>97</b>, 085402 (2018).</div></div>
<div class="r"><span class="n">[33]</span><div class="l">Zomer, P. J., Guimares, M. H. D., Brant, J. C., Tombros,</div><div class="l">N. &amp; van Wees, B. J. Fast pick up technique for high</div><div class="l">quality heterostructures of bilayer graphene and hexago-</div><div class="l">nal boron nitride. <i>Applied Physics Letters</i> <b>105</b>, 013101</div><div class="l e">(2014).</div></div>
<div class="r"><span class="n">[34]</span><div class="l">Doherty, M. W. <i>et al.</i> The nitrogen-vacancy colour centre</div><div class="l e">in diamond. <i>Physics Reports</i> <b>528</b>, 1–45 (2013).</div></div>
<div class="r"><span class="n">[35]</span><div class="l">Rondin, L. <i>et al.</i> Magnetometry with nitrogen-vacancy</div><div class="l e">defects in diamond. <i>Rep. Prog. Phys.</i> <b>77</b>, 56503 (2014).</div></div>
<div class="r"><span class="n">[36]</span><div class="l">Rondin, L. <i>et al.</i> Nanoscale magnetic field mapping</div><div class="l">with a single spin scanning probe magnetometer. <i>Ap-</i></div><div class="l e"><i>plied Physics Letters</i> <b>100</b>, 153118 (2012).</div></div>
</div>

<!-- ================= FIGURES (SVG) ================= -->
<svg id="figs" width="4635" height="1200" style="position:absolute;left:0;top:0" xmlns="http://www.w3.org/2000/svg">
<defs>
<filter id="blur2" x="-30%" y="-30%" width="160%" height="160%"><feGaussianBlur stdDeviation="2"/></filter>
<filter id="blur1" x="-30%" y="-30%" width="160%" height="160%"><feGaussianBlur stdDeviation="0.9"/></filter>
<linearGradient id="cbPO" x1="0" y1="0" x2="0" y2="1"><stop offset="0" stop-color="#2a0a5e"/><stop offset="0.5" stop-color="#f7f7f7"/><stop offset="1" stop-color="#a85500"/></linearGradient>
<linearGradient id="cbOPh" x1="0" y1="0" x2="1" y2="0"><stop offset="0" stop-color="#a85500"/><stop offset="0.5" stop-color="#f7f7f7"/><stop offset="1" stop-color="#2a0a5e"/></linearGradient>
<linearGradient id="cbBR" x1="0" y1="0" x2="0" y2="1"><stop offset="0" stop-color="#1020c8"/><stop offset="0.5" stop-color="#ffffff"/><stop offset="1" stop-color="#d81010"/></linearGradient>
<linearGradient id="cbGray" x1="0" y1="0" x2="0" y2="1"><stop offset="0" stop-color="#ffffff"/><stop offset="1" stop-color="#000000"/></linearGradient>
<linearGradient id="laserG" x1="0" y1="0" x2="1" y2="0"><stop offset="0" stop-color="#b8f07a"/><stop offset="1" stop-color="#8fd64e"/></linearGradient>
</defs>

<g>
<text x="1012" y="88" font-size="9">(a)</text>
<polygon points="1050,107 1110,104 1165,118 1102,124" fill="#9fd6ea" stroke="#333" stroke-width="0.7"/>
<polygon points="1030,118 1102,124 1165,118 1165,132 1102,140 1030,131" fill="#7ec8e3" stroke="#333" stroke-width="0.7"/>
<line x1="1030" y1="126" x2="1102" y2="134" stroke="#e06060" stroke-width="1.2"/>
<polygon points="1060,97 1105,93 1133,103 1090,108" fill="#f06fcf" stroke="#333" stroke-width="0.7"/>
<polygon points="1060,97 1090,108 1090,112 1060,101" fill="#d050b0" stroke="#333" stroke-width="0.5"/>
<path d="M1075,99 q6,-6 12,-1 q6,2 3,6 q-8,4 -15,-5z" fill="#d88a20" stroke="#8a5010" stroke-width="0.5"/>
<polygon points="1076,84 1082,81 1108,97 1102,100" fill="#f06fcf" stroke="#333" stroke-width="0.6"/>
<text x="1070" y="88" font-size="7">VI<tspan font-size="5" dy="2">3</tspan></text>
<text x="1118" y="85" font-size="7">hBN</text>
<text x="1147" y="96" font-size="6.5">NV</text><text x="1140" y="103" font-size="6.5">sensing</text><text x="1145" y="110" font-size="6.5">layer</text>
<text x="1012" y="130" font-size="7">MW</text>
<text x="1115" y="138" font-size="7">Diamond</text>
<rect x="1083" y="140" width="18" height="30" fill="#c99a4a" opacity="0.85"/>
<rect x="1025" y="154" width="58" height="22" fill="url(#laserG)" stroke="#333" stroke-width="0.6"/>
<ellipse cx="1025" cy="165" rx="5" ry="11" fill="#c5f59a" stroke="#333" stroke-width="0.6"/>
<text x="1025" y="187" font-size="7">Laser</text>
<ellipse cx="1102" cy="162" rx="5" ry="14" fill="#ddd" stroke="#555" stroke-width="0.6" transform="rotate(35 1102 162)"/>
<rect x="1088" y="180" width="62" height="16" fill="#f0a090" opacity="0.85"/>
<ellipse cx="1084" cy="188" rx="4" ry="14" fill="#ddd" stroke="#555" stroke-width="0.6" transform="rotate(-40 1084 188)"/>
<text x="1120" y="176" font-size="7">PL</text>
<ellipse cx="1155" cy="188" rx="6" ry="17" fill="#999" stroke="#444" stroke-width="0.6"/>
<ellipse cx="1155" cy="188" rx="3" ry="9" fill="#ddd" stroke="#444" stroke-width="0.6"/>
<text x="1140" y="162" font-size="7">Camera</text>
</g>
<g>
<text x="1186" y="88" font-size="9">(c)</text>
<text x="1012" y="270" font-size="9">(b)</text>
<text x="1186" y="270" font-size="9">(d)</text>
<circle cx="1259" cy="160" r="75" fill="#fafafa" stroke="#222" stroke-width="0.9"/>
<circle cx="1108" cy="341" r="76" fill="#cc8ce6" stroke="#222" stroke-width="0.9"/>
<circle cx="1259" cy="341" r="75" fill="#f8f8f8" stroke="#222" stroke-width="0.9"/>
<rect x="1348" y="117" width="5" height="93" fill="url(#cbBR)"/>
<text x="1356" y="122" font-size="7">+50</text><text x="1356" y="166" font-size="7">0</text><text x="1356" y="212" font-size="7">-50</text>
<text x="1375" y="163" font-size="10" transform="rotate(90 1375 163)" text-anchor="middle"><tspan font-style="italic">B</tspan><tspan font-size="7" dy="2">NV</tspan><tspan dy="-2"> (μT)</tspan></text>
<rect x="1348" y="298" width="5" height="92" fill="url(#cbPO)"/>
<text x="1356" y="303" font-size="7">+40</text><text x="1356" y="347" font-size="7">0</text><text x="1356" y="392" font-size="7">-40</text>
<text x="1375" y="344" font-size="10" transform="rotate(90 1375 344)" text-anchor="middle"><tspan font-style="italic">M</tspan><tspan font-size="7" dy="2">z</tspan><tspan dy="-2"> (μB/nm²)</tspan></text>
<text x="1300" y="118" font-size="7">20 μm</text><line x1="1295" y1="121" x2="1318" y2="121" stroke="#000" stroke-width="1.5"/>
<text x="1123" y="300" font-size="7">20 μm</text><line x1="1123" y1="303" x2="1146" y2="303" stroke="#000" stroke-width="1.5"/>
<text x="1300" y="299" font-size="7">20 μm</text><line x1="1295" y1="302" x2="1318" y2="302" stroke="#000" stroke-width="1.5"/>
<text x="1196" y="148" font-size="7" transform="rotate(-45 1196 148)">NV axis</text>
<line x1="1203" y1="165" x2="1213" y2="157" stroke="#000" stroke-width="2.5"/>
<text x="1192" y="327" font-size="6.5">top hBN</text>
<text x="1191" y="364" font-size="6.5">bot. hBN</text>
</g>

<g font-size="8">
<text x="1940" y="98" font-size="9">(a)</text><text x="1940" y="222" font-size="9">(b)</text>
<text x="1999" y="86" text-anchor="middle">Sample #1</text>
<text x="2115" y="86" text-anchor="middle">Sample #2</text>
<text x="2242" y="86" text-anchor="middle">Sample #3</text>
<text x="2361" y="86" text-anchor="middle">Sample #4</text>
<rect x="2432" y="110" width="6" height="73" fill="url(#cbGray)" stroke="#333" stroke-width="0.4"/>
<text x="2442" y="114" font-size="6">0</text><text x="2442" y="132" font-size="6">-5</text><text x="2442" y="151" font-size="6">-10</text><text x="2442" y="170" font-size="6">-15</text>
<text x="2460" y="146" font-size="9" transform="rotate(90 2460 146)" text-anchor="middle">Contrast (%)</text>
</g>
</svg>

<script>
const NS='http://www.w3.org/2000/svg';
const svg=document.getElementById('figs');
function mk(tag,attrs,parent){const e=document.createElementNS(NS,tag);for(const k in attrs)e.setAttribute(k,attrs[k]);(parent||svg).appendChild(e);return e;}
function txt(x,y,s,size,parent,extra){const e=mk('text',Object.assign({x:x,y:y,'font-size':size,fill:'#1e1e1e'},extra||{}),parent);e.textContent=s;return e;}

/* ---------- chart data (top level) ---------- */
const fig2cLayers=[1,2,2,3,3,3,4,4,4,5,8,9];
const fig2cMz=[0,0,2.5,4,6.5,7,6.5,7.5,8,11,15,15.5];
const fig2cFitX=[0,10];
const fig2cFitY=[0,18];
const fig2cBulkX=[0,3.6];
const fig2cBulkY=[0,18];
const fig2cXTicks=[0,2,4,6,8,10];
const fig2cYTicks=[0,5,10,15];
const fig2dT=[5,28,38,45,50,55,60];
const fig2d3L=[1,0.81,0.78,0.75,0.5,0,0];
const fig2d4L=[1,0.92,0.70,0.58,0.30,0,0];
const fig2d5L=[1,0.88,0.73,0.40,0.17,0,0];
const fig2d8L=[1,0.86,0.74,0.53,0.18,0,0];
const fig2dThick=[1,0.76,0.55,0.33,0.05,0,0];
const fig2dSeriesNames=['3L','4L','5L','8L','thick'];
const fig2dXTicks=[10,20,30,40,50,60];
const fig2dYTicks=[0,0.2,0.4,0.6,0.8,1.0];
const fig3cT=[5,16,24,32,40,48];
const fig3cFlake1=[1.0,0.65,0.45,0.25,0.07,0.01];
const fig3cFlake2=[1.0,0.95,0.65,0.35,0.12,0.04];
const fig3cErr1=[0.3,0.04,0.04,0.04,0.03,0.02];
const fig3cErr2=[0.3,0.04,0.04,0.04,0.03,0.02];
const fig3cAnisoT=[5,49];
const fig3cAnisoH=[1.0,0.19];
const fig3cXTicks=[10,20,30,40];
const fig3cYTicks=[0,0.2,0.4,0.6,0.8,1.0,1.2];
const fig4cBins=[0.1,0.15,0.2,0.25,0.3,0.35];
const fig4c4L=[0,0,3,2,5,6];
const fig4c5L=[0,0,4,5,3,1];
const fig4c8L=[0,1,4,3,1,1];
const fig4cThick=[4,3,2.7,0,0,0];
const fig4cPanelNames=['4L','5L','8L','thick'];
const fig4cOffsets=[15,10,5,0];
const fig4cXTicks=[0,0.2,0.4];
const fig4cYTicks=[0,5,10,15,20];

function lin(d0,d1,r0,r1){return v=>r0+(v-d0)*(r1-r0)/(d1-d0);}
function axesBox(x0,y0,x1,y1,name){const r=mk('rect',{x:x0,y:y0,width:x1-x0,height:y1-y0,fill:'none',stroke:'#222','stroke-width':1});


return r;}

/* Fig 2c */
(function(){
const X0=2522,X1=2702,Y0=80,Y1=183;
const sx=lin(-0.3,10.3,X0,X1), sy=lin(-0.7,18.5,Y1,Y0);
const g=mk('g',{});


txt(2486,92,'(c)',9,g);
fig2cXTicks.forEach(v=>{mk('line',{x1:sx(v),x2:sx(v),y1:Y1,y2:Y1-3,stroke:'#222'},g);txt(sx(v),Y1+11,String(v),8,g,{'text-anchor':'middle'});});
fig2cYTicks.forEach(v=>{mk('line',{x1:X0,x2:X0+3,y1:sy(v),y2:sy(v),stroke:'#222'},g);txt(X0-3,sy(v)+3,String(v),8,g,{'text-anchor':'end'});});
const bulk=mk('line',{x1:sx(fig2cBulkX[0]),y1:sy(fig2cBulkY[0]),x2:sx(fig2cBulkX[1]),y2:sy(fig2cBulkY[1]),stroke:'#e02020','stroke-width':1,'stroke-dasharray':'3,2'},g);

const fit=mk('line',{x1:sx(fig2cFitX[0]),y1:sy(fig2cFitY[0]),x2:sx(fig2cFitX[1]),y2:sy(fig2cFitY[1]),stroke:'#1f2fc0','stroke-width':1.4},g);

fig2cLayers.forEach((L,i)=>{const c=mk('circle',{cx:sx(L),cy:sy(fig2cMz[i]),r:3.6,fill:'#a9b9f0',stroke:'#5a74d8','stroke-width':0.8},g);

});
txt(2538,140,'bulk ≈ 1 μB/f.u.',7,g,{fill:'#333','font-style':'italic',transform:'rotate(-70 2538 140)'});
txt(2638,118,'0.4 μB/f.u.',7,g,{fill:'#333','font-style':'italic',transform:'rotate(-42 2638 118)'});
mk('circle',{cx:2662,cy:159,r:3.6,fill:'#a9b9f0',stroke:'#5a74d8'},g);txt(2672,162,'data',8,g);
mk('line',{x1:2655,x2:2668,y1:170,y2:170,stroke:'#1f2fc0','stroke-width':1.5},g);txt(2672,173,'fit',8,g);
axesBox(X0,Y0,X1,Y1,'fig2c-axes');
txt(2612,212,'Number of layers',9,g,{'text-anchor':'middle'});
txt(2499,131,'Mz (μB/nm²)',9,g,{'text-anchor':'middle','font-style':'italic',transform:'rotate(-90 2499 131)'});
})();

/* Fig 2d */
(function(){
const X0=2521,X1=2702,Y0=232,Y1=333;
const sx=lin(4,61,X0,X1), sy=lin(-0.01,1.03,Y1,Y0);
const g=mk('g',{});


txt(2486,236,'(d)',9,g);
fig2dXTicks.forEach(v=>{mk('line',{x1:sx(v),x2:sx(v),y1:Y1,y2:Y1-3,stroke:'#222'},g);txt(sx(v),Y1+11,String(v),8,g,{'text-anchor':'middle'});});
fig2dYTicks.forEach(v=>{mk('line',{x1:X0,x2:X0+3,y1:sy(v),y2:sy(v),stroke:'#222'},g);txt(X0-3,sy(v)+3,v.toFixed(1),7.5,g,{'text-anchor':'end'});});
const all=[fig2d3L,fig2d4L,fig2d5L,fig2d8L,fig2dThick];
const cols=['#f0a0a0','#d84040','#c01818','#4a0a0a','#111'];
all.forEach((s,k)=>{
 const pts=fig2dT.map((t,i)=>sx(t)+','+sy(s[i])).join(' ');
 const pl=mk('polyline',{points:pts,fill:'none',stroke:cols[k],'stroke-width':1.1,'stroke-dasharray':k==4?'3,2':'none'},g);
 
 fig2dT.forEach((t,i)=>{const m=mk('circle',{cx:sx(t),cy:sy(s[i]),r:2,fill:cols[k]},g);
 });
 const ly=272+k*9.5;
 mk('line',{x1:2537,x2:2552,y1:ly,y2:ly,stroke:cols[k],'stroke-width':1.1,'stroke-dasharray':k==4?'3,2':'none'},g);
 mk('circle',{cx:2544.5,cy:ly,r:2,fill:cols[k]},g);
 const lt=txt(2556,ly+3,fig2dSeriesNames[k],8,g);
 
});
axesBox(X0,Y0,X1,Y1,'fig2d-axes');
txt(2612,362,'T (K)',9,g,{'text-anchor':'middle','font-style':'italic'});
txt(2497,283,'Mz(T) / Mz(5 K)',9,g,{'text-anchor':'middle','font-style':'italic',transform:'rotate(-90 2497 283)'});
})();

/* Fig 3c */
(function(){
const X0=2543,X1=2705,Y0=625,Y1=743;
const sx=lin(4.3,49,X0,X1), sy=lin(0,1.35,Y1,Y0);
const g=mk('g',{});


txt(2525,574,'(c)',8,g);
mk('rect',{x:X0,y:Y0,width:X1-X0,height:Y1-Y0,fill:'#f6c07a'},g);
const f2=fig3cT.map((t,i)=>sx(t)+','+sy(fig3cFlake2[i])).join(' ');
const f1=fig3cT.map((t,i)=>sx(t)+','+sy(fig3cFlake1[i])).join(' ');
mk('polygon',{points:X0+','+Y1+' '+X0+','+sy(fig3cFlake2[0])+' '+f2+' '+X1+','+sy(fig3cFlake2[fig3cT.length-1])+' '+X1+','+Y1,fill:'#b8b8b8'},g);
mk('polygon',{points:X0+','+Y1+' '+X0+','+sy(fig3cFlake1[0])+' '+f1+' '+X1+','+sy(fig3cFlake1[fig3cT.length-1])+' '+X1+','+Y1,fill:'#b3a9dc'},g);
const an=mk('line',{x1:sx(fig3cAnisoT[0]),y1:sy(fig3cAnisoH[0]),x2:sx(fig3cAnisoT[1]),y2:sy(fig3cAnisoH[1]),stroke:'#111','stroke-width':1.3,'stroke-dasharray':'3,2'},g);

[[fig3cFlake1,fig3cErr1,'rect'],[fig3cFlake2,fig3cErr2,'circle']].forEach(([s,e,shape],k)=>{
 const pl=mk('polyline',{points:fig3cT.map((t,i)=>sx(t)+','+sy(s[i])).join(' '),fill:'none',stroke:'#222','stroke-width':0.9},g);
 
 fig3cT.forEach((t,i)=>{
  const up=e[i];const dn=i==0?0:e[i];
  mk('line',{x1:sx(t),x2:sx(t),y1:sy(s[i]+up),y2:sy(s[i]-dn),stroke:'#222','stroke-width':0.7},g);
  let m;
  if(shape=='rect'){m=mk('rect',{x:sx(t)-2.5,y:sy(s[i])-2.5,width:5,height:5,fill:'#111'},g);}
  else{m=mk('circle',{cx:sx(t),cy:sy(s[i]),r:2.6,fill:'#111'},g);}
  
 });
});
fig3cXTicks.forEach(v=>{mk('line',{x1:sx(v),x2:sx(v),y1:Y1,y2:Y1-3,stroke:'#222'},g);txt(sx(v),Y1+10,String(v),7.5,g,{'text-anchor':'middle'});});
fig3cYTicks.forEach(v=>{mk('line',{x1:X0,x2:X0+3,y1:sy(v),y2:sy(v),stroke:'#222'},g);txt(X0-2,sy(v)+3,v.toFixed(1),7,g,{'text-anchor':'end'});});
axesBox(X0,Y0,X1,Y1,'fig3c-axes');
txt(2703,621,'Sample #3',7,g,{'text-anchor':'end'});
txt(2624,766,'T (K)',10,g,{'text-anchor':'middle','font-style':'italic'});
txt(2528,684,'Hc (T)',9,g,{'text-anchor':'middle','font-style':'italic',transform:'rotate(-90 2528 684)'});
mk('line',{x1:2549,x2:2560,y1:714,y2:714,stroke:'#111'},g);mk('rect',{x:2552,y:712,width:4,height:4,fill:'#111'},g);txt(2562,717,'Hc flake 1',6.5,g);
mk('line',{x1:2549,x2:2560,y1:723,y2:723,stroke:'#111'},g);mk('circle',{cx:2554,cy:723,r:2,fill:'#111'},g);txt(2562,726,'Hc flake 2',6.5,g);
mk('line',{x1:2549,x2:2560,y1:732,y2:732,stroke:'#111','stroke-dasharray':'2,2'},g);txt(2562,735,'anisotropy limit',6.5,g);
})();

/* Fig 4c */
(function(){
const X0=3543,X1=3632,Y0=77,Y1=218;
const sx=lin(0,0.5,X0,X1), sy=lin(0,21,Y1,Y0);
const g=mk('g',{});


txt(3517,90,'(c)',8,g);
const panels=[fig4c4L,fig4c5L,fig4c8L,fig4cThick];
const fills=['#dfe6fb','#c2d1f6','#a9bdf1','#93aae8'];
panels.forEach((cnt,k)=>{
 const base=fig4cOffsets[k];
 cnt.forEach((c,i)=>{ if(c<=0) return;
  const b=mk('rect',{x:sx(fig4cBins[i]),y:sy(base+c),width:sx(fig4cBins[i]+0.05)-sx(fig4cBins[i]),height:sy(base)-sy(base+c),fill:fills[k],stroke:'#4a6fd6','stroke-width':0.7},g);
  
  
 });
 mk('line',{x1:X0,x2:X1,y1:sy(base),y2:sy(base),stroke:'#3a64d0','stroke-width':1},g);
});
txt(3571,96,'4L',6.5,g);txt(3569,150,'5L',6.5,g);txt(3565,178,'8L',6.5,g);txt(3590,204,'thick',6.5,g);
fig4cXTicks.forEach(v=>{txt(sx(v),Y1+9,v.toFixed(1),7,g,{'text-anchor':'middle'});});
fig4cYTicks.forEach(v=>{txt(X0-2,sy(v)+3,String(v),6.5,g,{'text-anchor':'end'});});
axesBox(X0,Y0,X1,Y1,'fig4c-axes');
txt(3587,240,'Depinning field (T)',7.5,g,{'text-anchor':'middle'});
txt(3527,148,'Counts',7.5,g,{'text-anchor':'middle',transform:'rotate(-90 3527 148)'});
})();

/* maps */
const PD='#2b0b63',PM='#5a3fa2',PL='#b9b1de',OD='#a65200',OM='#d4841f',OL='#f5c88c';
let clipId=0;
function mapPanel(x,y,w,h,name,blobs,bg){
 const g=mk('g',{});
 
 
 const cp=mk('clipPath',{id:'cp'+(++clipId)},svg.querySelector('defs'));
 mk('rect',{x:x,y:y,width:w,height:h},cp);
 mk('rect',{x:x,y:y,width:w,height:h,fill:bg||'#f6f6f6'},g);
 const outer=mk('g',{'clip-path':'url(#cp'+clipId+')'},g);
 const inner=mk('g',{filter:'url(#blur1)'},outer);
 blobs.forEach(b=>{
  if(b[0]=='poly'){mk('polygon',{points:b[1].map(p=>(x+p[0]*w)+','+(y+p[1]*h)).join(' '),fill:b[2],opacity:b[3]==null?1:b[3]},inner);}
  else{mk('ellipse',{cx:x+b[0]*w,cy:y+b[1]*h,rx:b[2]*w,ry:b[3]*h,fill:b[4],opacity:b[5]==null?1:b[5]},inner);}
 });
 mk('rect',{x:x,y:y,width:w,height:h,fill:'none',stroke:'#444','stroke-width':1},g);
 return g;
}
function scaleBar(x,y,len){mk('line',{x1:x,x2:x+len,y1:y,y2:y,stroke:'#000','stroke-width':2});}
function dashed(points,x,y,w,h,col){mk('polygon',{points:points.map(p=>(x+p[0]*w)+','+(y+p[1]*h)).join(' '),fill:'none',stroke:col||'#e02020','stroke-width':1,'stroke-dasharray':'2,1.5'});}

/* Fig 1 circle contents */
(function(){
 const cg=mk('clipPath',{id:'c1c'},svg.querySelector('defs'));mk('circle',{cx:1259,cy:160,r:74},cg);
 const g=mk('g',{'clip-path':'url(#c1c)'});
 
 const spots=[[1220,100,'#2030d0'],[1228,110,'#e04040'],[1240,98,'#2030d0'],[1236,120,'#e04040'],[1244,130,'#2030d0'],[1250,140,'#e04040'],[1262,178,'#2030d0'],[1270,168,'#1020c0'],[1255,190,'#e04040'],[1275,195,'#2030d0'],[1248,200,'#e05050'],[1265,205,'#2030d0'],[1230,140,'#e04040'],[1252,112,'#2030d0']];
 spots.forEach(s=>mk('ellipse',{cx:s[0],cy:s[1],rx:6,ry:5,fill:s[2],opacity:0.8},g));
 const bg2=mk('clipPath',{id:'c1b'},svg.querySelector('defs'));mk('circle',{cx:1108,cy:341,r:75},bg2);
 const gb=mk('g',{'clip-path':'url(#c1b)'});
 
 mk('polygon',{points:'1040,280 1090,268 1100,300 1070,300',fill:'#e9e2f0',opacity:0.8},gb);
 mk('polygon',{points:'1090,270 1110,268 1125,330 1140,360 1120,395 1095,380 1085,340 1100,300',fill:'#6f86e6',opacity:0.9},gb);
 mk('polygon',{points:'1090,340 1125,335 1130,375 1100,380',fill:'#8a70dc',opacity:0.8},gb);
 const cd=mk('clipPath',{id:'c1d'},svg.querySelector('defs'));mk('circle',{cx:1259,cy:341,r:74},cd);
 const gdd=mk('g',{'clip-path':'url(#c1d)'});
 
 [[1240,290,10,8,PM,0.6],[1236,296,4,4,PD,1],[1255,288,8,6,PL,0.8],[1285,360,14,18,PD,0.95],[1265,370,14,8,PM,0.7],[1270,345,12,8,PL,0.7],[1250,315,6,4,PL,0.6]].forEach(b=>mk('ellipse',{cx:b[0],cy:b[1],rx:b[2],ry:b[3],fill:b[4],opacity:b[5]},gdd));
 const outl=(cx,cy)=>{mk('polygon',{points:(cx-20)+','+(cy-28)+' '+(cx+28)+','+(cy-8)+' '+(cx+12)+','+(cy+40)+' '+(cx-15)+','+(cy+70)+' '+(cx-20)+','+(cy+10),fill:'none',stroke:'#444','stroke-width':0.7});
 mk('polygon',{points:(cx-30)+','+(cy+18)+' '+(cx-5)+','+(cy-12)+' '+(cx+12)+','+(cy-20)+' '+(cx+10)+','+(cy+35)+' '+(cx-5)+','+(cy+45),fill:'none',stroke:'#333','stroke-width':0.7,'stroke-dasharray':'2,1.5'});};
 outl(1259,181);outl(1108,361);outl(1259,361);
})();

/* Fig 2 maps */
(function(){
 const cols=[[1953,92],[2050,130],[2195,95],[2297,129]];
 const ya=90,yb=212,h=115;
 mapPanel(cols[0][0],ya,cols[0][1],h,'fig2a-sample1-contrast',[['poly',[[0,0.05],[0.8,0.05],[0.75,0.3],[0.9,0.35],[0.8,0.6],[0.9,0.8],[0.8,1],[0,1]],'#8c8c8c'],['poly',[[0.78,0],[1,0],[1,1],[0.8,1],[0.9,0.8],[0.8,0.6],[0.9,0.35]],'#0d0d0d'],['poly',[[0,0.55],[0.4,0.5],[0.6,1],[0,1]],'#555'],['poly',[[0,0],[0.3,0],[0.2,0.3],[0,0.4]],'#fff']],'#fff');
 dashed([[0.25,0.3],[0.75,0.05],[0.82,0.35],[0.55,0.55],[0.45,0.85],[0.2,1],[0.05,0.8],[0.2,0.6]],cols[0][0],ya,cols[0][1],h);
 mapPanel(cols[1][0],ya,cols[1][1],h,'fig2a-sample2-contrast',[['poly',[[0.3,0.2],[0.5,0.35],[0.9,0.75],[0.7,0.95],[0.35,0.9],[0.3,0.5],[0.2,0.5]],'#9a9a9a'],['poly',[[0.72,0.65],[0.9,0.75],[0.85,0.92],[0.7,0.9]],'#111']],'#fff');
 dashed([[0.3,0.2],[0.5,0.35],[0.9,0.75],[0.7,0.95],[0.35,0.9],[0.3,0.5],[0.2,0.5]],cols[1][0],ya,cols[1][1],h);
 mapPanel(cols[2][0],ya,cols[2][1],h,'fig2a-sample3-contrast',[['poly',[[0.3,0.2],[0.55,0.55],[0.8,0.75],[0.7,0.8],[0.4,0.55]],'#b0b0b0']],'#fff');
 dashed([[0.3,0.2],[0.55,0.55],[0.8,0.78],[0.7,0.82],[0.4,0.55]],cols[2][0],ya,cols[2][1],h);
 mapPanel(cols[3][0],ya,cols[3][1],h,'fig2a-sample4-contrast',[['poly',[[0,0],[0.3,0],[0.25,0.6],[0.1,1],[0,1]],'#444'],['poly',[[0.3,0],[0.45,0],[0.4,0.55],[0.7,0.3],[0.8,0.55],[0.65,0.9],[0.1,1],[0.25,0.6]],'#999'],['poly',[[0,0.5],[0.15,0.4],[0.1,0.7]],'#111']],'#fff');
 dashed([[0.15,0.35],[0.3,0.15],[0.35,0.45],[0.7,0.3],[0.75,0.55],[0.95,0.65],[0.9,0.9],[0.5,0.7],[0.3,0.5]],cols[3][0],ya,cols[3][1],h);
 mapPanel(cols[0][0],yb,cols[0][1],h,'fig2b-sample1-mz',[[0.4,0.25,0.2,0.13,PM,0.7],[0.45,0.2,0.08,0.06,PD,0.9],[0.4,0.8,0.18,0.12,PM,0.8],['poly',[[1,0.45],[0.65,0.6],[0.55,0.8],[0.6,1],[1,1]],PD,1]]);
 dashed([[0.25,0.1],[0.5,0.05],[0.75,0.15],[0.5,0.35],[0.3,0.6],[0.2,0.95],[0.1,0.7],[0.2,0.4]],cols[0][0],yb,cols[0][1],h);
 mapPanel(cols[1][0],yb,cols[1][1],h,'fig2b-sample2-mz',[[0.5,0.5,0.22,0.26,PM,0.85],[0.75,0.85,0.08,0.1,PD,1]]);
 dashed([[0.3,0.2],[0.5,0.35],[0.9,0.75],[0.7,0.95],[0.35,0.9],[0.3,0.5],[0.2,0.5]],cols[1][0],yb,cols[1][1],h);
 mapPanel(cols[2][0],yb,cols[2][1],h,'fig2b-sample3-mz',[[0.45,0.45,0.12,0.18,PD,0.9],[0.55,0.65,0.1,0.1,PL,0.7]]);
 dashed([[0.3,0.2],[0.55,0.55],[0.8,0.78],[0.7,0.82],[0.4,0.55]],cols[2][0],yb,cols[2][1],h);
 mapPanel(cols[3][0],yb,cols[3][1],h,'fig2b-sample4-mz',[[0.5,0.45,0.2,0.15,PM,0.9],[0.5,0.4,0.1,0.06,PD,0.9],[0.75,0.65,0.1,0.1,PL,0.8],[0.02,0.03,0.05,0.04,OM,0.9]]);
 dashed([[0.2,0.2],[0.3,0.12],[0.35,0.45],[0.7,0.3],[0.75,0.55],[0.95,0.65],[0.9,0.9],[0.5,0.7],[0.3,0.5],[0.1,0.4]],cols[3][0],yb,cols[3][1],h);
 scaleBar(1958,96,22);scaleBar(2150,96,22);scaleBar(2261,96,12);scaleBar(2395,96,22);
 scaleBar(1958,219,12);scaleBar(2155,219,18);scaleBar(2267,219,12);scaleBar(2400,219,16);
 const lab=[['-15','+15'],['-8','+8'],['-7','+7'],['-7','+7']];
 cols.forEach((c,i)=>{const cx=c[0]+c[1]/2;
  const cb=mk('rect',{x:cx-32,y:333,width:64,height:6,fill:'url(#cbOPh)',stroke:'#333','stroke-width':0.4});
  
  txt(cx-32,350,lab[i][0],7,svg,{'text-anchor':'middle'});txt(cx,350,'0',7,svg,{'text-anchor':'middle'});txt(cx+32,350,lab[i][1],7,svg,{'text-anchor':'middle'});
  txt(cx,366,'Mz (μB/nm²)',7.5,svg,{'text-anchor':'middle','font-style':'italic'});
 });
 txt(1990,101,'10 μm',6.5,svg,{'text-anchor':'end'});
})();

/* Fig 3 maps */
(function(){
 const x0=1950,w=83,step=84.7;
 const fieldsA=['-0.7 T','-0.8 T','-0.9 T','-0.95 T','-1.0 T','+1.0 T'];
 const fieldsB=['-0.4 T','-0.5 T','-0.7 T','-0.8 T','-1.0 T','-1.0 T @ 40 K'];
 const topA=[PL,OL,OL,OL,OL,PL];
 const botA=[PD,PD,PD,OD,OD,OD];
 fieldsA.forEach((f,i)=>{const x=x0+i*step;
  const bl=[[0.3,0.25,0.22,0.17,topA[i],0.8],['poly',[[0.45,0.45],[0.8,0.4],[0.95,0.6],[0.85,1],[0.45,1],[0.55,0.7]],botA[i],0.95]];
  if(i==3)bl.push([0.6,0.55,0.08,0.07,PM,0.8]);
  mapPanel(x,563,w,100,'fig3a-map-'+i,bl);
  txt(x+w/2,559,f,7,svg,{'text-anchor':'middle'});
  scaleBar(x+5,658,14);
 });
 const bigB=[PM,PM,PM,OM,OM,OM];
 const cenB=[PD,OM,OD,OD,OD,OD];
 fieldsB.forEach((f,i)=>{const x=x0+i*step;
  const bl=[['poly',[[0.25,0.2],[0.55,0.3],[0.7,0.5],[0.9,0.7],[0.8,0.95],[0.4,0.85],[0.3,0.6],[0.15,0.45]],bigB[i],0.85],[0.55,0.6,0.16,0.15,cenB[i],0.9],[0.2,0.1,0.06,0.08,PL,0.7]];
  if(i==3)bl.push([0.35,0.7,0.1,0.08,PL,0.8]);
  mapPanel(x,683,w,83,'fig3b-map-'+i,bl);
  txt(x+w/2,679,f,7,svg,{'text-anchor':'middle'});
  scaleBar(x+5,761,14);
 });
 txt(1940,559,'(a)',8);txt(1940,679,'(b)',8);
 txt(1944,620,'Sample #1',6.5,svg,{'text-anchor':'middle',transform:'rotate(-90 1944 620)'});
 txt(1944,728,'Sample #4',6.5,svg,{'text-anchor':'middle',transform:'rotate(-90 1944 728)'});
 const cb1=mk('rect',{x:2458,y:566,width:5,height:90,fill:'url(#cbPO)'});
 
 const cb2=mk('rect',{x:2458,y:686,width:5,height:76,fill:'url(#cbPO)'});
 
 txt(2465,571,'+30',6.5);txt(2465,613,'0',6.5);txt(2465,658,'-30',6.5);
 txt(2465,691,'+8',6.5);txt(2465,726,'0',6.5);txt(2465,763,'-8',6.5);
 txt(2485,610,'Mz (μB/nm²)',8,svg,{'text-anchor':'middle','font-style':'italic',transform:'rotate(90 2485 610)'});
 txt(2485,725,'Mz (μB/nm²)',8,svg,{'text-anchor':'middle','font-style':'italic',transform:'rotate(90 2485 725)'});
 txt(2527,562,'(d)',7);
 const cb3=mk('rect',{x:2541,y:567,width:3,height:34,fill:'url(#cbPO)'});
 
 const d=[[PD,PL],[OM,PL],[OM,OM]];
 d.forEach((c,i)=>{const x=2549+i*43;mapPanel(x,560,38,44,'fig3d-map-'+i,[[0.4,0.35,0.2,0.25,c[0],0.9],[0.72,0.72,0.12,0.1,c[1],0.8]]);scaleBar(x+4,600,12);});
 txt(2680,582,'flake 1',6.5);txt(2680,599,'flake 2',6.5);
 mk('line',{x1:2650,x2:2678,y1:580,y2:580,stroke:'#222','stroke-width':0.6});
 mk('line',{x1:2660,x2:2678,y1:596,y2:596,stroke:'#222','stroke-width':0.6});
 mk('line',{x1:2565,x2:2560,y1:604,y2:680,stroke:'#555','stroke-width':0.5});
 mk('line',{x1:2605,x2:2590,y1:604,y2:660,stroke:'#555','stroke-width':0.5});
 mk('line',{x1:2650,x2:2652,y1:604,y2:655,stroke:'#555','stroke-width':0.5});
})();

/* Fig 4 maps */
(function(){
 const x0=2878,w=81,step=82;
 const fields=['ZFC','+0.15 T','+0.20 T','+0.25 T','+0.30 T','+0.35 T','+0.40 T'];
 const spk=[[0.2,0.2],[0.35,0.25],[0.5,0.3],[0.3,0.45],[0.45,0.5],[0.6,0.45],[0.25,0.6],[0.4,0.7],[0.55,0.65],[0.65,0.25],[0.7,0.55],[0.5,0.15],[0.35,0.85],[0.2,0.8],[0.6,0.8]];
 fields.forEach((f,i)=>{const x=x0+i*step;
  const bl=[];
  spk.forEach((p,j)=>{const c=(j+i)%3==0?OM:((i>2&&j%2==0)?PM:((j%2)?PL:OL));bl.push([p[0],p[1],0.06,0.05,c,0.85]);});
  if(i>=3)bl.push([0.5,0.45,0.08+0.04*(i-3),0.1+0.05*(i-3),PD,0.9]);
  if(i>=5)bl.push([0.45,0.55,0.25,0.2,PD,0.95]);
  bl.push(['poly',[[1,0.7],[1,1],[0.7,1]],PD,1]);
  mapPanel(x,88,w,60,'fig4a-map-'+i,bl);
  txt(x+w/2,84,f,7,svg,{'text-anchor':'middle'});
  scaleBar(x+6,144,24);
  const bl2=[[0.4,0.6,0.25,0.22,PL,0.75],[0.3,0.75,0.15,0.1,PL,0.7],[0.2,0.3,0.05,0.05,OL,0.6]];
  if(i>=1)bl2.push([0.5,0.55,0.18,0.18,PM,0.2+0.08*i]);
  bl2.push(['poly',[[0.65,0.15],[0.85,0.2],[0.8,0.5],[0.65,0.5]],i==0?PL:PD,i==0?0.5:0.95]);
  mapPanel(x,152,w,89,'fig4b-map-'+i,bl2);
  scaleBar(x+6,236,24);
 });
 mk('rect',{x:2880,y:154,width:20,height:28,fill:'none',stroke:'#888','stroke-width':0.6});
 txt(2880,95,'(a)',8);txt(2880,159,'(b)',8);
 txt(2886,141,'10 μm',6);txt(2886,232,'10 μm',6);
 txt(3430,162,'thick',6.5,svg,{transform:'rotate(-50 3430 162)'});
 const c1=mk('rect',{x:3460,y:90,width:5,height:56,fill:'url(#cbPO)'});
 
 const c2=mk('rect',{x:3460,y:163,width:5,height:70,fill:'url(#cbPO)'});
 
 txt(3467,95,'+10',6.5);txt(3467,121,'0',6.5);txt(3467,147,'-10',6.5);
 txt(3467,167,'+50',6.5);txt(3467,200,'0',6.5);txt(3467,235,'-50',6.5);
 txt(3488,150,'Mz (μB/nm²)',8,svg,{'text-anchor':'middle','font-style':'italic',transform:'rotate(90 3488 150)'});
})();
</script>
</body></html>
